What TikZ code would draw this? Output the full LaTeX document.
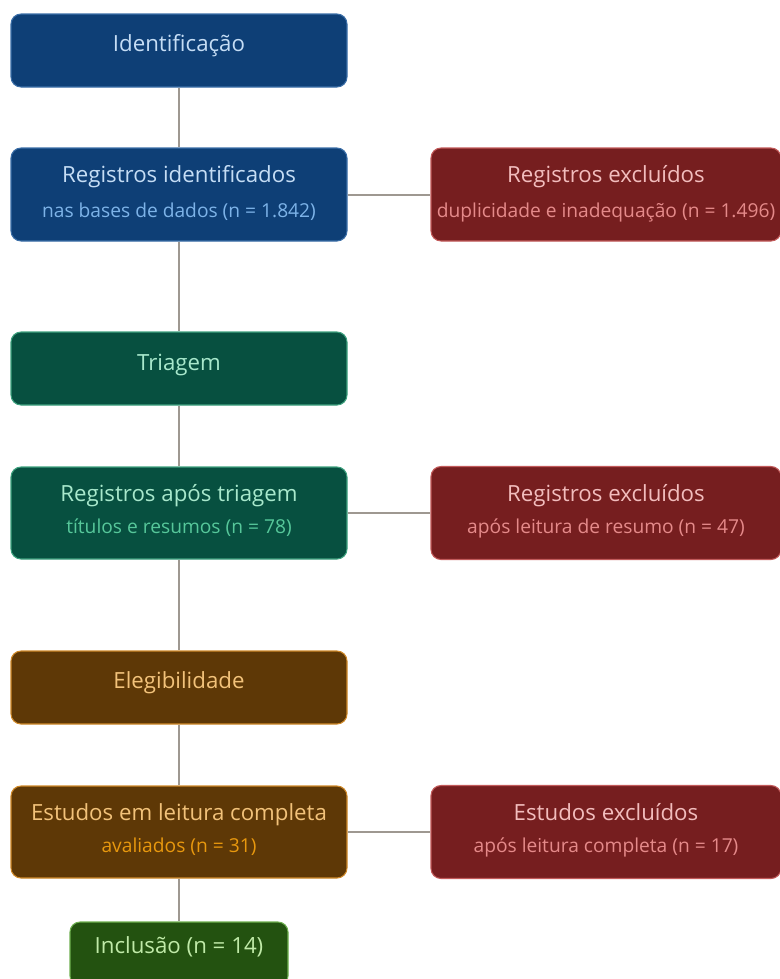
\documentclass[tikz,border=0pt]{standalone}
\usepackage{fontspec}
\setmainfont{Open Sans}
\usetikzlibrary{positioning}

\definecolor{idfill}{HTML}{0E3F76}
\definecolor{iddraw}{HTML}{3C6FA8}
\definecolor{idtit}{HTML}{C5DDF5}
\definecolor{idsub}{HTML}{7DB3E8}
\definecolor{trfill}{HTML}{075040}
\definecolor{trdraw}{HTML}{3FA27F}
\definecolor{trtit}{HTML}{A8E8CC}
\definecolor{trsub}{HTML}{56C79A}
\definecolor{elfill}{HTML}{5E3806}
\definecolor{eldraw}{HTML}{D08A2A}
\definecolor{eltit}{HTML}{F2C27A}
\definecolor{elsub}{HTML}{E8980E}
\definecolor{exfill}{HTML}{761E1F}
\definecolor{exdraw}{HTML}{C25A5A}
\definecolor{extit}{HTML}{F2BDBD}
\definecolor{exsub}{HTML}{E58A8A}
\definecolor{infill}{HTML}{235210}
\definecolor{indraw}{HTML}{6FB050}
\definecolor{intit}{HTML}{C0EAA8}
\definecolor{linkgray}{HTML}{9E9891}

\tikzset{
  box/.style={draw, rounded corners=7.5pt, line width=0.8pt, inner sep=0pt,
    minimum width=252pt},
  sidebox/.style={box, minimum width=262.5pt, minimum height=69.75pt,
    fill=exfill, draw=exdraw},
  ttl/.style={anchor=base, font=\fontsize{16.7}{20}\selectfont},
  sub/.style={anchor=base, font=\fontsize{14.4}{17}\selectfont},
  link/.style={draw=linkgray, line width=1.5pt}
}

\begin{document}
\begin{tikzpicture}[x=0.75pt, y=-0.75pt]
\fill[white] (0,0) rectangle (780,979);
\clip (0,0) rectangle (780,979);

% left column
\node[box, fill=idfill, draw=iddraw, minimum height=54.75pt] (ident) at (179,50.5) {};
\node[box, fill=idfill, draw=iddraw, minimum height=69.75pt] (regid) at (179,194.5) {};
\node[box, fill=trfill, draw=trdraw, minimum height=54.75pt] (triag) at (179,368.5) {};
\node[box, fill=trfill, draw=trdraw, minimum height=69pt] (regtri) at (179,513) {};
\node[box, fill=elfill, draw=eldraw, minimum height=54.75pt] (elegi) at (179,687.5) {};
\node[box, fill=elfill, draw=eldraw, minimum height=69pt] (estud) at (179,832) {};
\node[box, fill=infill, draw=indraw, minimum width=163.5pt, minimum height=48pt] (inclu) at (179,954) {};

% right column
\node[sidebox] (excA) at (606,194.5) {};
\node[sidebox] (excB) at (606,513) {};
\node[sidebox] (excC) at (606,832) {};

% connectors
\draw[link] (ident) -- (regid);
\draw[link] (regid) -- (triag);
\draw[link] (triag) -- (regtri);
\draw[link] (regtri) -- (elegi);
\draw[link] (elegi) -- (estud);
\draw[link] (estud) -- (inclu);
\draw[link] (regid) -- (excA);
\draw[link] (regtri) -- (excB);
\draw[link] (estud) -- (excC);

% texts
\node[ttl, text=idtit] (identT) at (179,51) {Identificação};
\node[ttl, text=idtit] (regidT) at (179,182) {Registros identificados};
\node[sub, text=idsub] (regidS) at (179,217) {nas bases de dados (n = 1.842)};
\node[ttl, text=extit] (excAT) at (606,182) {Registros excluídos};
\node[sub, text=exsub] (excAS) at (606,217) {duplicidade e inadequação (n = 1.496)};
\node[ttl, text=trtit] (triagT) at (179,370) {Triagem};
\node[ttl, text=trtit] (regtriT) at (179,501) {Registros após triagem};
\node[sub, text=trsub] (regtriS) at (179,533) {títulos e resumos (n = 78)};
\node[ttl, text=extit] (excBT) at (606,501) {Registros excluídos};
\node[sub, text=exsub] (excBS) at (606,533) {após leitura de resumo (n = 47)};
\node[ttl, text=eltit] (elegiT) at (179,688) {Elegibilidade};
\node[ttl, text=eltit] (estudT) at (179,820) {Estudos em leitura completa};
\node[sub, text=elsub] (estudS) at (179,852) {avaliados (n = 31)};
\node[ttl, text=extit] (excCT) at (606,820) {Estudos excluídos};
\node[sub, text=exsub] (excCS) at (606,852) {após leitura completa (n = 17)};
\node[ttl, text=intit] (incluT) at (179,953) {Inclusão (n = 14)};
\end{tikzpicture}
\end{document}
